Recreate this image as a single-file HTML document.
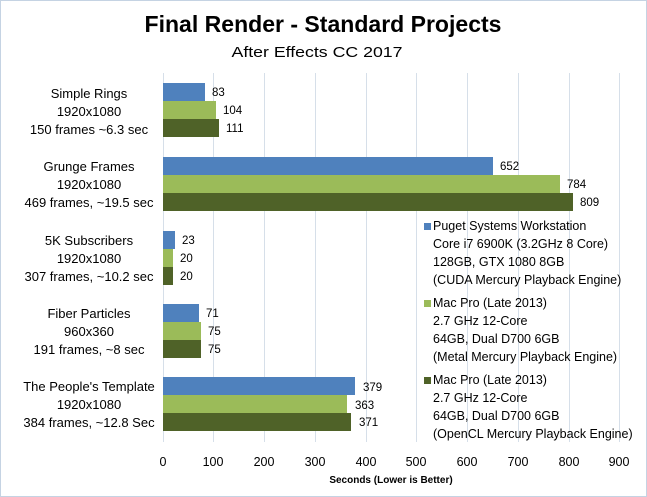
<!DOCTYPE html>
<html><head><style>
body{margin:0;background:#fff}
svg{display:block;font-family:"Liberation Sans",sans-serif}
</style></head><body>
<svg width="647" height="497" viewBox="0 0 647 497">
<rect x="0.5" y="0.5" width="646" height="496" fill="#fff" stroke="#c5d3e3"/>
<text x="323" y="32" text-anchor="middle" font-size="23" font-weight="bold" fill="#000" textLength="357" lengthAdjust="spacingAndGlyphs">Final Render - Standard Projects</text>
<text x="317" y="57" text-anchor="middle" font-size="15" fill="#000" textLength="171" lengthAdjust="spacingAndGlyphs">After Effects CC 2017</text>
<g stroke="#d6dfe9" stroke-width="1">
<line x1="163.5" y1="73" x2="163.5" y2="442"/><line x1="213.5" y1="73" x2="213.5" y2="442"/><line x1="264.5" y1="73" x2="264.5" y2="442"/><line x1="315.5" y1="73" x2="315.5" y2="442"/><line x1="366.5" y1="73" x2="366.5" y2="442"/><line x1="416.5" y1="73" x2="416.5" y2="442"/><line x1="467.5" y1="73" x2="467.5" y2="442"/><line x1="518.5" y1="73" x2="518.5" y2="442"/><line x1="569.5" y1="73" x2="569.5" y2="442"/><line x1="619.5" y1="73" x2="619.5" y2="442"/>
</g>
<g font-size="11.5" fill="#000">
<rect x="163" y="83" width="42" height="18" fill="#4f81bd"/>
<rect x="163" y="101" width="53" height="18" fill="#9bbb59"/>
<rect x="163" y="119" width="56" height="18" fill="#4f6228"/>
<text x="212" y="96">83</text><text x="223" y="114">104</text><text x="226" y="132">111</text>
<rect x="163" y="157" width="330" height="18" fill="#4f81bd"/>
<rect x="163" y="175" width="397" height="18" fill="#9bbb59"/>
<rect x="163" y="193" width="410" height="18" fill="#4f6228"/>
<text x="500" y="170">652</text><text x="567" y="188">784</text><text x="580" y="206">809</text>
<rect x="163" y="231" width="12" height="18" fill="#4f81bd"/>
<rect x="163" y="249" width="10" height="18" fill="#9bbb59"/>
<rect x="163" y="267" width="10" height="18" fill="#4f6228"/>
<text x="182" y="244">23</text><text x="180" y="262">20</text><text x="180" y="280">20</text>
<rect x="163" y="304" width="36" height="18" fill="#4f81bd"/>
<rect x="163" y="322" width="38" height="18" fill="#9bbb59"/>
<rect x="163" y="340" width="38" height="18" fill="#4f6228"/>
<text x="206" y="317">71</text><text x="208" y="335">75</text><text x="208" y="353">75</text>
<rect x="163" y="377" width="192" height="18" fill="#4f81bd"/>
<rect x="163" y="395" width="184" height="18" fill="#9bbb59"/>
<rect x="163" y="413" width="188" height="18" fill="#4f6228"/>
<text x="363" y="391">379</text><text x="355" y="409">363</text><text x="359" y="426">371</text>
</g>
<g font-size="13" fill="#000" text-anchor="middle">
<text x="89" y="98">Simple Rings</text><text x="89" y="116">1920x1080</text><text x="89" y="134">150 frames ~6.3 sec</text>
<text x="89" y="171">Grunge Frames</text><text x="89" y="189">1920x1080</text><text x="89" y="207">469 frames, ~19.5 sec</text>
<text x="89" y="245">5K Subscribers</text><text x="89" y="263">1920x1080</text><text x="89" y="281">307 frames, ~10.2 sec</text>
<text x="89" y="318">Fiber Particles</text><text x="89" y="336">960x360</text><text x="89" y="354">191 frames, ~8 sec</text>
<text x="89" y="391">The People's Template</text><text x="89" y="409">1920x1080</text><text x="89" y="427">384 frames, ~12.8 Sec</text>
</g>
<g font-size="12.5" fill="#000" text-anchor="middle">
<text x="163" y="466">0</text><text x="213" y="466">100</text><text x="264" y="466">200</text><text x="315" y="466">300</text><text x="366" y="466">400</text><text x="416" y="466">500</text><text x="467" y="466">600</text><text x="518" y="466">700</text><text x="569" y="466">800</text><text x="619" y="466">900</text>
<text x="391" y="483" font-size="10" font-weight="bold">Seconds  (Lower is Better)</text>
</g>
<g font-size="12.5" fill="#000">
<rect x="424" y="223" width="7" height="7" fill="#4f81bd"/>
<text x="433" y="230">Puget Systems Workstation</text><text x="433" y="248">Core i7 6900K (3.2GHz 8 Core)</text><text x="433" y="266">128GB, GTX 1080 8GB</text><text x="433" y="284">(CUDA Mercury Playback Engine)</text>
<rect x="424" y="300" width="7" height="7" fill="#9bbb59"/>
<text x="433" y="307">Mac Pro (Late 2013)</text><text x="433" y="325">2.7 GHz 12-Core</text><text x="433" y="343">64GB, Dual D700 6GB</text><text x="433" y="361">(Metal Mercury Playback Engine)</text>
<rect x="424" y="377" width="7" height="7" fill="#4f6228"/>
<text x="433" y="384">Mac Pro (Late 2013)</text><text x="433" y="402">2.7 GHz 12-Core</text><text x="433" y="420">64GB, Dual D700 6GB</text><text x="433" y="438">(OpenCL Mercury Playback Engine)</text>
</g>
</svg>
</body></html>
